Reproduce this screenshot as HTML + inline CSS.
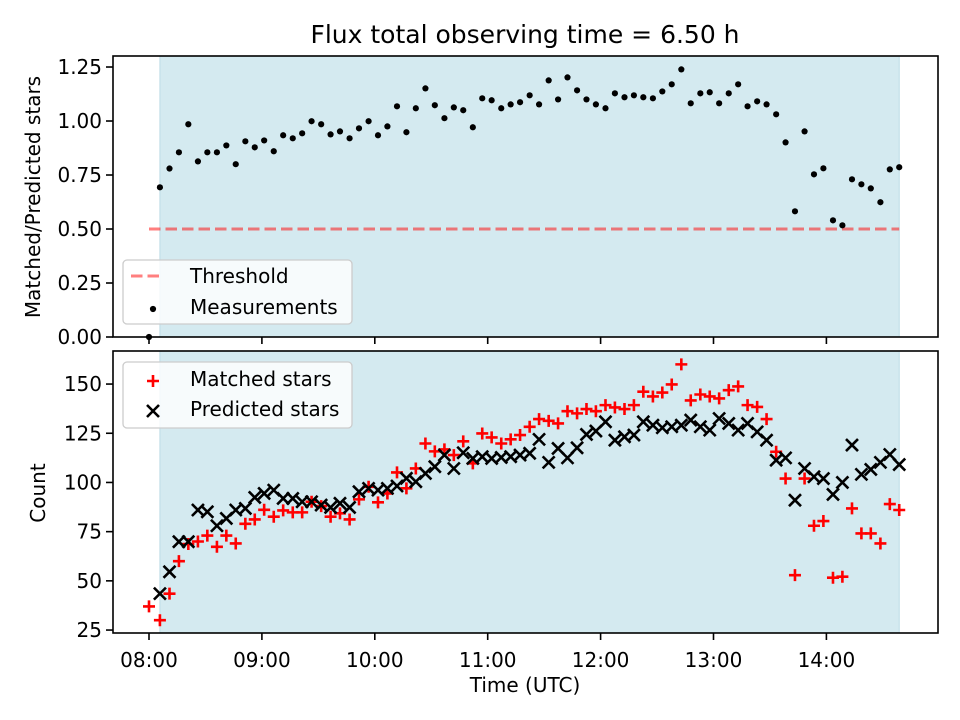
<!DOCTYPE html>
<html><head><meta charset="utf-8">
<style>
html,body{margin:0;padding:0;background:#fff;}
svg{display:block;font-family:"DejaVu Sans","Liberation Sans",sans-serif;}
</style></head>
<body>
<svg id="chart" width="960" height="720" viewBox="0 0 960 720" xmlns="http://www.w3.org/2000/svg">
<rect width="960" height="720" fill="#fff"/>
<text x="525" y="43" font-size="25" text-anchor="middle" fill="#000">Flux total observing time = 6.50 h</text>
<g id="top"></g>
<g id="bottom"></g>
<text x="525" y="692" font-size="20" text-anchor="middle">Time (UTC)</text>
<text transform="translate(40,197) rotate(-90)" font-size="20" text-anchor="middle">Matched/Predicted stars</text>
<text transform="translate(45,493) rotate(-90)" font-size="20" text-anchor="middle">Count</text>
</svg>
<script>
// minutes after 08:00
const times = [0,5.8,10.9,15.9,20.9,26.0,31.0,36.1,41.1,46.1,51.2,56.2,61.2,66.3,71.3,76.4,81.4,86.4,91.5,96.5,101.5,106.6,111.6,116.7,121.7,126.7,131.8,136.8,141.8,146.9,151.9,157.0,162.0,167.0,172.1,177.1,182.1,187.2,192.2,197.2,202.3,207.3,212.4,217.4,222.4,227.5,232.5,237.5,242.6,247.6,252.7,257.7,262.7,267.8,272.8,277.8,282.9,287.9,293.0,298.0,303.0,308.1,313.1,318.1,323.2,328.2,333.3,338.3,343.3,348.4,353.4,358.4,363.5,368.5,373.6,378.6,383.6,388.7,393.7,398.7];
const ratio = [0,0.693,0.78,0.855,0.985,0.813,0.855,0.855,0.887,0.80,0.906,0.878,0.91,0.86,0.934,0.92,0.943,0.999,0.985,0.938,0.952,0.92,0.966,0.999,0.934,0.975,1.068,0.948,1.059,1.151,1.073,1.013,1.063,1.05,0.971,1.105,1.096,1.059,1.077,1.087,1.119,1.077,1.188,1.10,1.202,1.142,1.10,1.077,1.059,1.128,1.11,1.119,1.11,1.105,1.137,1.17,1.239,1.082,1.128,1.133,1.082,1.128,1.17,1.068,1.091,1.077,1.031,0.901,0.582,0.952,0.753,0.781,0.54,0.517,0.73,0.707,0.688,0.624,0.776,0.786];
const matched = [37,30,43.5,60,68.7,70,73,67.3,73,69,79,81.2,86.1,82.6,85.8,84.8,84.8,90.2,88,82.6,84.3,81.2,91.4,97.8,89.9,94.4,105.1,97,107.1,119.8,115.8,116.8,113.9,120.9,109.7,124.9,122.9,119.8,121.9,124.1,128.3,132.2,131.3,130,136.2,135.1,137.3,136.2,139.3,138.1,137.3,139.3,146.1,143.7,145.7,149.8,160,141.7,144.7,143.7,142.7,146.9,148.8,139.3,138.4,132.2,115.6,102,52.9,102,78,80.4,51.6,52.1,86.8,74.1,74.1,69,89,86];
const predicted = [null,43.5,54.6,69.9,69.9,86,85.1,78,81.7,86,86.8,92.4,94.4,96.1,91.9,91.9,90.2,90.2,88.5,87.3,89.4,87.3,95.3,97,96.1,97,98.2,102.1,100.4,104.6,108,113.9,107.1,115.1,112.2,113.1,112.2,112.7,113.1,113.9,114.8,121.9,110.2,117.3,112.5,117.6,124.4,126.1,130.8,121.5,123.2,124.1,130.8,129.1,127.8,128.3,129.1,131.7,128.3,126.6,132.5,130,126.6,130,125.7,121.5,111.3,112.5,91,107.1,102.9,102,93.9,100,119,104.1,106.6,110.2,114.2,109.1];
const xTickLabels = ["08:00","09:00","10:00","11:00","12:00","13:00","14:00"];
const xTickMinutes = [0,60,120,180,240,300,360];
const topTicks = [0,0.25,0.5,0.75,1.0,1.25];
const bottomTicks = [25,50,75,100,125,150];
const threshold = [0.5];

const NS="http://www.w3.org/2000/svg";
const L=113,R=938;
const X=m=>149+m*112.9/60;
const TOP={t:56,b:337,min:0,max:1.301};
const BOT={t:351,b:633,min:23.5,max:166.8};
const Y=(ax,v)=>ax.b-(v-ax.min)/(ax.max-ax.min)*(ax.b-ax.t);
function mk(tag,attrs,parent){const e=document.createElementNS(NS,tag);for(const k in attrs)e.setAttribute(k,attrs[k]);parent.appendChild(e);return e;}

function axes(g,ax,ticks,fmt,name){
  const first=times[1],last=times[times.length-1];
  const span=mk('rect',{x:X(first),y:ax.t,width:X(last)-X(first),height:ax.b-ax.t,fill:'#d4eaf0',stroke:'#bcdce6','stroke-width':1},g);
  
  
  ticks.forEach(v=>{
    const y=Y(ax,v);
    const tk=mk('line',{x1:L-7,x2:L,y1:y,y2:y,stroke:'#000','stroke-width':1.6},g);
    
    
    const t=mk('text',{x:L-11,y:y+7,'font-size':20,'text-anchor':'end'},g);
    t.textContent=fmt(v);
    
    
  });
  xTickMinutes.forEach((m,i)=>{
    const tk=mk('line',{x1:X(m),x2:X(m),y1:ax.b,y2:ax.b+7,stroke:'#000','stroke-width':1.6},g);
    
    
  });
}
function frame(g,ax,name){
  const f=mk('rect',{x:L,y:ax.t,width:R-L,height:ax.b-ax.t,fill:'none',stroke:'#000','stroke-width':1.6},g);
  
  
}
function legendBox(g,y,h,name){
  const b=mk('rect',{x:123,y:y,width:229,height:h,rx:4,fill:'rgba(255,255,255,0.8)',stroke:'#cccccc','stroke-width':1.3},g);
  
  
}
function plus(g,x,y){const p=mk('path',{d:`M${x-6},${y}H${x+6}M${x},${y-6}V${y+6}`,stroke:'#ff0000','stroke-width':2.6,fill:'none'},g);return p;}
function cross(g,x,y){const p=mk('path',{d:`M${x-6},${y-6}L${x+6},${y+6}M${x-6},${y+6}L${x+6},${y-6}`,stroke:'#000','stroke-width':2.6,fill:'none'},g);return p;}

// TOP
const gt=document.getElementById('top');
axes(gt,TOP,topTicks,v=>v.toFixed(2),'top');
const th=mk('line',{x1:X(0),x2:X(times[times.length-1]),y1:Y(TOP,threshold[0]),y2:Y(TOP,threshold[0]),stroke:'#ff0000','stroke-opacity':0.5,'stroke-width':3,'stroke-dasharray':'11.5,5'},gt);


ratio.forEach((v,i)=>{
  const c=mk('circle',{cx:X(times[i]),cy:Y(TOP,v),r:3.1,fill:'#000'},gt);
  
  
});
frame(gt,TOP,'top');
legendBox(gt,260,64,'top-legend');
const ll=mk('line',{x1:131,x2:162,y1:276,y2:276,stroke:'#ff0000','stroke-opacity':0.5,'stroke-width':3,'stroke-dasharray':'11.5,5'},gt);


let t1=mk('text',{x:190,y:283,'font-size':20},gt);t1.textContent='Threshold';


const ld=mk('circle',{cx:153,cy:309,r:3.1,fill:'#000'},gt);


let t2=mk('text',{x:190,y:314,'font-size':20},gt);t2.textContent='Measurements';



// BOTTOM
const gb=document.getElementById('bottom');
axes(gb,BOT,bottomTicks,v=>String(v),'bottom');
xTickMinutes.forEach((m,i)=>{
  const t=mk('text',{x:X(m),y:667,'font-size':20,'text-anchor':'middle'},gb);
  t.textContent=xTickLabels[i];
  
  
});
matched.forEach((v,i)=>{
  if(v==null)return;
  const p=plus(gb,X(times[i]),Y(BOT,v));
  
  
});
predicted.forEach((v,i)=>{
  if(v==null)return;
  const p=cross(gb,X(times[i]),Y(BOT,v));
  
  
});
frame(gb,BOT,'bottom');
legendBox(gb,362,66,'bottom-legend');
const lp=plus(gb,153,381);


let t3=mk('text',{x:190,y:386,'font-size':20},gb);t3.textContent='Matched stars';


const lx=cross(gb,153,411);


let t4=mk('text',{x:190,y:416,'font-size':20},gb);t4.textContent='Predicted stars';


</script>
</body></html>
